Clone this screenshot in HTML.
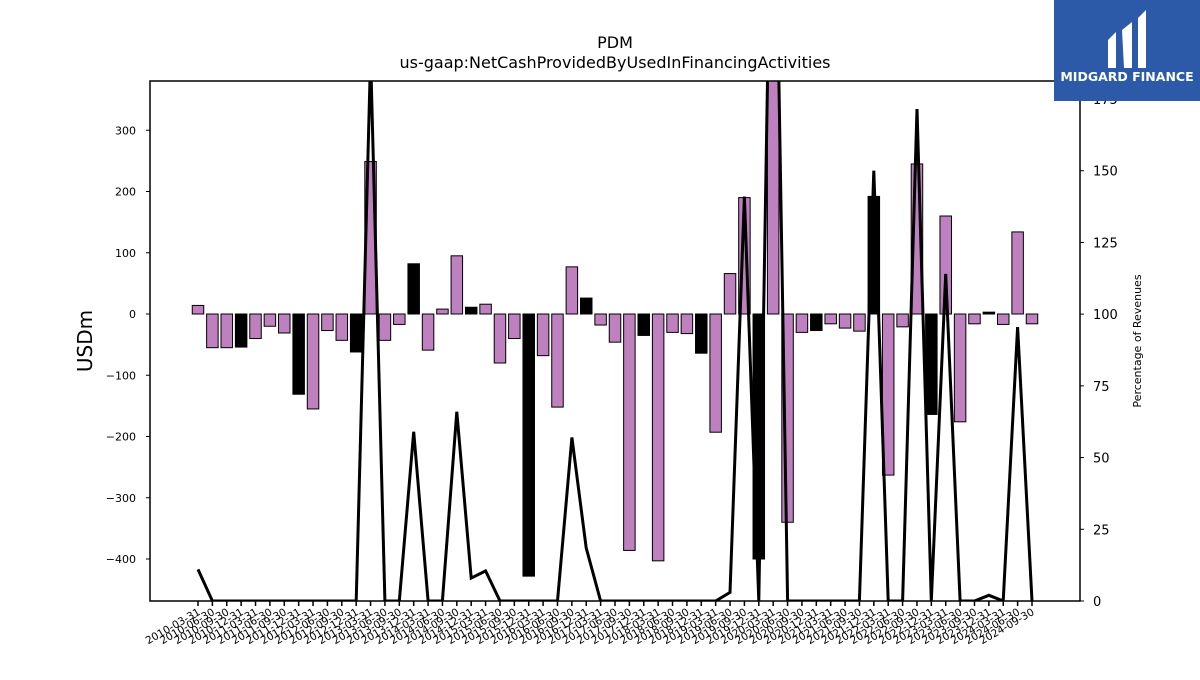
<!DOCTYPE html>
<html><head><meta charset="utf-8"><style>
body{margin:0;background:#fff;width:1200px;height:675px;overflow:hidden;font-family:"Liberation Sans","DejaVu Sans",sans-serif}
</style></head><body>
<svg id="chart" width="1200" height="675" xmlns="http://www.w3.org/2000/svg" style="font-family:'DejaVu Sans','Liberation Sans',sans-serif">
<text x="615" y="48" text-anchor="middle" font-size="16">PDM</text>
<text x="615" y="68" text-anchor="middle" font-size="16">us-gaap:NetCashProvidedByUsedInFinancingActivities</text>
<text transform="translate(92,341) rotate(-90)" text-anchor="middle" font-size="20">USDm</text>
<text transform="translate(1141,341) rotate(-90)" text-anchor="middle" font-size="11">Percentage of Revenues</text>
<defs><clipPath id="plot"><rect x="150" y="81" width="930" height="520"/></clipPath></defs>
<g id="bars" clip-path="url(#plot)"></g>
<g id="line" clip-path="url(#plot)"></g>
<rect x="150" y="81" width="930" height="520" fill="none" stroke="#000" stroke-width="1.5"/>
<g id="axes"></g>
<g>
<rect x="1054" y="0" width="146" height="101" fill="#2c5aa8"/>
<path d="M1108 40 L1116 32 L1116 68 L1108 68 Z M1122 30 L1132 22 L1132 68 L1124 68 Z M1138 18 L1146 10 L1146 68 L1138 68 Z" fill="#fff"/>
<text x="1127" y="81" text-anchor="middle" font-size="12.5" font-weight="bold" fill="#fff">MIDGARD FINANCE</text>
</g>
</svg>
<script>
const dates=["2010-03-31","2010-06-30","2010-09-30","2010-12-31","2011-03-31","2011-06-30","2011-09-30","2011-12-31","2012-03-31","2012-06-30","2012-09-30","2012-12-31","2013-03-31","2013-06-30","2013-09-30","2013-12-31","2014-03-31","2014-06-30","2014-09-30","2014-12-31","2015-03-31","2015-06-30","2015-09-30","2015-12-31","2016-03-31","2016-06-30","2016-09-30","2016-12-31","2017-03-31","2017-06-30","2017-09-30","2017-12-31","2018-03-31","2018-06-30","2018-09-30","2018-12-31","2019-03-31","2019-06-30","2019-09-30","2019-12-31","2020-03-31","2020-06-30","2020-09-30","2020-12-31","2021-03-31","2021-06-30","2021-09-30","2021-12-31","2022-03-31","2022-06-30","2022-09-30","2022-12-31","2023-03-31","2023-06-30","2023-09-30","2023-12-31","2024-03-31","2024-06-30","2024-09-30"];
const cashFlow=[14,-55,-55,-54,-40,-20,-31,-131,-155,-27,-43,-62,249,-43,-17,82,-59,8,95,11,16,-80,-40,-428,-68,-152,77,26,-18,-46,-386,-35,-403,-30,-32,-64,-193,66,190,-400,450,-340,-30,-27,-16,-23,-28,192,-263,-21,245,-164,160,-176,-16,3,-17,134,-16];
const pctRevenue=[11,0,0,0,0,0,0,0,0,0,0,0,190,0,0,59,0,0,66,8,10.5,0,0,0,0,0,57,18.5,0,0,0,0,0,0,0,0,0,3,141,0,300,0,0,0,0,0,0,150,0,0,171.5,0,114,0,0,2,0,95.5,0];
const leftTicks=[-400,-300,-200,-100,0,100,200,300];
const rightTicks=[0,25,50,75,100,125,150,175];
const NS="http://www.w3.org/2000/svg";
const xPos=i=>198+i*((1032-198)/58);
const yL=v=>314-v*0.6125;
const yR=v=>601-v*(502/175);
function mk(tag,attrs,parent){const e=document.createElementNS(NS,tag);for(const k in attrs)e.setAttribute(k,attrs[k]);parent.appendChild(e);return e;}
const bars=document.getElementById('bars'),line=document.getElementById('line'),axes=document.getElementById('axes');
cashFlow.forEach((v,i)=>{
  const y0=yL(0),y1=yL(v);
  const r=mk('rect',{x:xPos(i)-5.75,y:Math.min(y0,y1),width:11.5,height:Math.abs(y1-y0),fill:(i%4===3)?'#000':'#bf80bf',stroke:'#000','stroke-width':1},bars);
  
  
});
const pts=pctRevenue.map((v,i)=>xPos(i).toFixed(1)+','+yR(v).toFixed(1)).join(' ');
const pl=mk('polyline',{points:pts,fill:'none',stroke:'#000','stroke-width':3,'stroke-linejoin':'miter'},line);


leftTicks.forEach(t=>{
  const y=yL(t);
  mk('line',{x1:146,x2:150,y1:y,y2:y,stroke:'#000'},axes);
  const tx=mk('text',{x:136,y:y+4,'text-anchor':'end','font-size':11},axes);
  tx.textContent=t===0?'0':(t<0?'\u2212'+(-t):t);
  
  
});
rightTicks.forEach(t=>{
  const y=yR(t);
  mk('line',{x1:1080,x2:1084,y1:y,y2:y,stroke:'#000'},axes);
  const tx=mk('text',{x:1093,y:y+5,'font-size':13},axes);
  tx.textContent=t;
  
  
});
dates.forEach((d,i)=>{
  const x=xPos(i);
  mk('line',{x1:x,x2:x,y1:601,y2:606,stroke:'#000','stroke-width':1.5},axes);
  const tx=mk('text',{transform:'translate('+(x+3)+',614) rotate(-30)','text-anchor':'end','font-size':10.5},axes);
  tx.textContent=d;
  
  
});
</script>
</body></html>
